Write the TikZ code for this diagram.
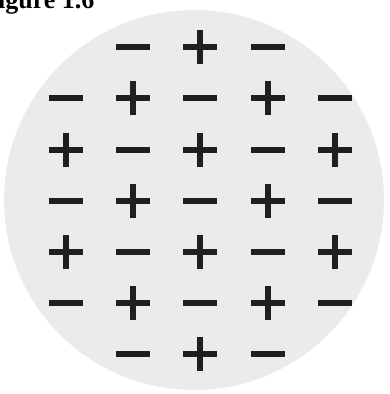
\documentclass[tikz,border=0pt]{standalone}
\usepackage{fontspec}
\setmainfont{Liberation Serif}
\begin{document}
\begin{tikzpicture}[x=1pt,y=-1pt,
  signline/.style={line width=5.5pt, draw=black!88},
  minussign/.pic={\draw[signline] (-17,0)--(17,0);},
  plussign/.pic={\draw[signline] (-17,0)--(17,0) (0,-17)--(0,17);}]
\useasboundingbox (0,0) rectangle (389,394);
\clip (0,0) rectangle (389,394);
\fill[gray!16] (194,200) circle (190pt);
\node[anchor=base west, font=\bfseries\fontsize{26}{26}\selectfont, inner sep=0pt] (title) at (-18,8) {Figure 1.6};
% grid: columns 66,133,200,268,335 ; rows 47,98,150,201,252,303,354
\foreach \x/\s in {133/minussign,200/plussign,268/minussign}{\pic at (\x,47) {\s};}
\foreach \x/\s in {66/minussign,133/plussign,200/minussign,268/plussign,335/minussign}{\pic at (\x,98) {\s};}
\foreach \x/\s in {66/plussign,133/minussign,200/plussign,268/minussign,335/plussign}{\pic at (\x,150) {\s};}
\foreach \x/\s in {66/minussign,133/plussign,200/minussign,268/plussign,335/minussign}{\pic at (\x,201) {\s};}
\foreach \x/\s in {66/plussign,133/minussign,200/plussign,268/minussign,335/plussign}{\pic at (\x,252) {\s};}
\foreach \x/\s in {66/minussign,133/plussign,200/minussign,268/plussign,335/minussign}{\pic at (\x,303) {\s};}
\foreach \x/\s in {133/minussign,200/plussign,268/minussign}{\pic at (\x,354) {\s};}
\end{tikzpicture}
\end{document}
